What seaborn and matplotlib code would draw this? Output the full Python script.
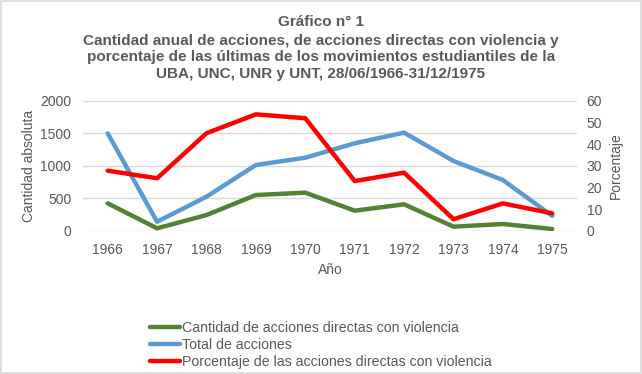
import matplotlib
matplotlib.use("Agg")
import matplotlib.pyplot as plt
import seaborn as sns
import pandas as pd
from matplotlib.lines import Line2D
from matplotlib.patches import Rectangle

years = [1966, 1967, 1968, 1969, 1970, 1971, 1972, 1973, 1974, 1975]
violentas = [421, 37, 241, 549, 585, 308, 406, 62, 103, 26]
total = [1498, 138, 523, 1011, 1123, 1345, 1508, 1072, 780, 226]
porcentaje = [27.7, 24.2, 45.0, 53.7, 51.9, 22.9, 26.8, 5.3, 12.6, 8.0]

labels = ["Cantidad de acciones directas con violencia",
          "Total de acciones",
          "Porcentaje de las acciones directas con violencia"]
colors = ["#548235", "#5B9BD5", "#FF0000"]

df = pd.DataFrame({"Año": years, "viol": violentas, "tot": total, "pct": porcentaje})

sns.set_theme(style="white")
plt.rcParams["font.family"] = ["Liberation Sans", "DejaVu Sans"]
txt = "#595959"

fig = plt.figure(figsize=(6.42, 3.74), dpi=100)
fig.patches.append(Rectangle((0.0015, 0.002), 0.997, 0.996, transform=fig.transFigure,
                             fill=False, edgecolor="#D9D9D9", linewidth=1.2))
ax = fig.add_axes([83 / 642, 1 - 230.7 / 374, (577 - 83) / 642, 130 / 374])
ax2 = ax.twinx()

lw = 3.2
sns.lineplot(data=df, x="Año", y="viol", ax=ax, color=colors[0], linewidth=lw)
sns.lineplot(data=df, x="Año", y="tot", ax=ax, color=colors[1], linewidth=lw)
sns.lineplot(data=df, x="Año", y="pct", ax=ax2, color=colors[2], linewidth=lw)

ax.set_xlim(1965.5, 1975.5)
ax.set_ylim(0, 2000)
ax2.set_ylim(0, 60)
ax.set_yticks([0, 500, 1000, 1500, 2000])
ax2.set_yticks([0, 10, 20, 30, 40, 50, 60])
ax.set_xticks(years)
ax.set_xticklabels([str(y) for y in years])
ax.yaxis.grid(True, color="#D9D9D9", linewidth=1)
ax.set_axisbelow(True)
for a in (ax, ax2):
    for s in a.spines.values():
        s.set_visible(False)
    a.tick_params(colors=txt, labelsize=10, length=0)
ax.tick_params(axis="y", pad=8.5)
ax2.tick_params(axis="y", pad=7)
ax.tick_params(axis="x", pad=8.5)
ax.set_xlabel("Año", color=txt, fontsize=10, labelpad=5)
ax.set_ylabel("Cantidad absoluta", color=txt, fontsize=10, labelpad=3)
ax2.set_ylabel("Porcentaje", color=txt, fontsize=10, labelpad=5)

fig.text(0.5, 1 - 21.5 / 374, "Gráfico n° 1", ha="center", va="center",
         fontsize=11, fontweight="bold", color=txt)
title = ("Cantidad anual de acciones, de acciones directas con violencia y\n"
         "porcentaje de las últimas de los movimientos estudiantiles de la\n"
         "UBA, UNC, UNR y UNT, 28/06/1966-31/12/1975")
fig.text(0.5, 1 - 57.5 / 374, title, ha="center", va="center",
         fontsize=11, fontweight="bold", color=txt, linespacing=1.27)

handles = [Line2D([0], [0], color=c, linewidth=lw) for c in colors]
fig.legend(handles, labels, loc="upper left", bbox_to_anchor=(150 / 642, 1 - 320.5 / 374),
           frameon=False, fontsize=10.2, labelcolor=txt, handlelength=2.15,
           handletextpad=0.12, labelspacing=0.22, borderpad=0, borderaxespad=0)

fig.savefig("out.png", dpi=100)
